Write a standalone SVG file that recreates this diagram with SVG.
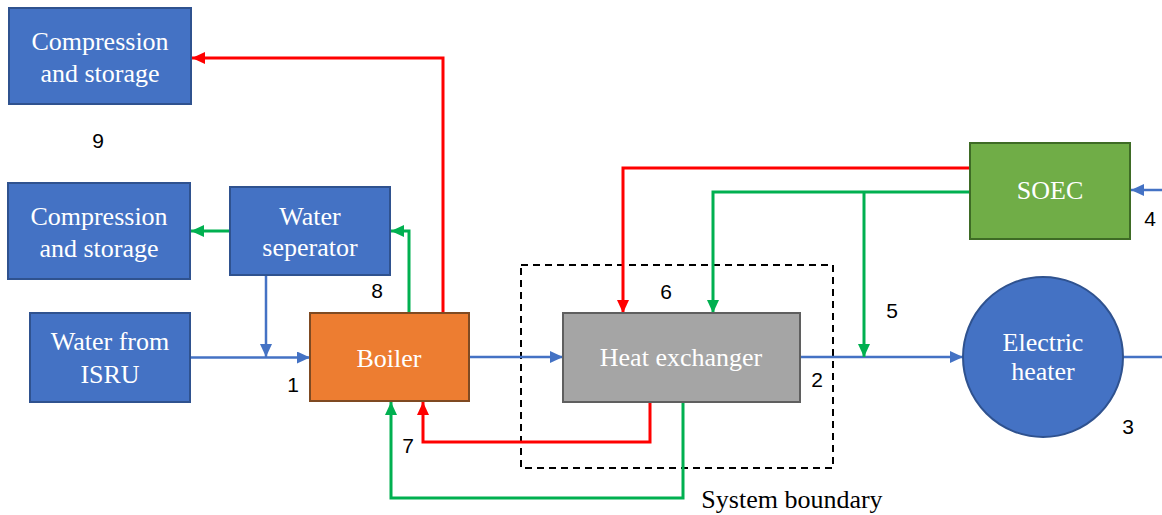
<svg xmlns="http://www.w3.org/2000/svg" width="1162" height="515" viewBox="0 0 1162 515">
  <defs>
    <marker id="ah-blue" markerUnits="userSpaceOnUse" markerWidth="13" markerHeight="12" refX="13" refY="6" orient="auto">
      <path d="M0,0 L13,6 L0,12 z" fill="#4472C4"/>
    </marker>
    <marker id="ah-red" markerUnits="userSpaceOnUse" markerWidth="13" markerHeight="12" refX="13" refY="6" orient="auto">
      <path d="M0,0 L13,6 L0,12 z" fill="#FF0000"/>
    </marker>
    <marker id="ah-green" markerUnits="userSpaceOnUse" markerWidth="13" markerHeight="12" refX="13" refY="6" orient="auto">
      <path d="M0,0 L13,6 L0,12 z" fill="#00B050"/>
    </marker>
  </defs>
  <style>
    .blue { fill: #4472C4; stroke: #2F528F; stroke-width: 2; }
    .label { font-family: "Liberation Serif", "Times New Roman", serif; font-size: 26px; fill: #FFFFFF; text-anchor: middle; }
    .num { font-family: "Liberation Sans", Arial, sans-serif; font-size: 21px; fill: #000000; text-anchor: middle; }
    .wb { fill: none; stroke: #4472C4; stroke-width: 2.5; }
    .wr { fill: none; stroke: #FF0000; stroke-width: 3; }
    .wg { fill: none; stroke: #00B050; stroke-width: 3; }
  </style>
  <rect width="1162" height="515" fill="#FFFFFF"/>

  <!-- system boundary -->
  <rect x="521" y="265" width="312" height="203" fill="none" stroke="#000000" stroke-width="2" stroke-dasharray="7,5"/>
  <text x="792" y="508" font-family="Liberation Serif, Times New Roman, serif" font-size="26" text-anchor="middle" fill="#000000">System boundary</text>

  <g id="connectors">
    <!-- boiler steam to top compression -->
    <path class="wr" d="M443,313 V58 H192" marker-end="url(#ah-red)"/>
    <!-- boiler gas to water separator -->
    <path class="wg" d="M409,313 V231 H391" marker-end="url(#ah-green)"/>
    <!-- water separator to compression -->
    <path class="wg" d="M230,231 H191" marker-end="url(#ah-green)"/>
    <!-- water separator recycle -->
    <path class="wb" d="M266,275 V357" marker-end="url(#ah-blue)"/>
    <!-- ISRU water to boiler -->
    <path class="wb" d="M190,357.5 H310" marker-end="url(#ah-blue)"/>
    <!-- boiler to heat exchanger -->
    <path class="wb" d="M469,357 H563" marker-end="url(#ah-blue)"/>
    <!-- heat exchanger to electric heater -->
    <path class="wb" d="M800,357 H963" marker-end="url(#ah-blue)"/>
    <!-- heater outlet -->
    <path class="wb" d="M1123,357 H1162"/>
    <!-- SOEC inlet -->
    <path class="wb" d="M1162,190 H1131" marker-end="url(#ah-blue)"/>
    <!-- SOEC oxygen to heat exchanger -->
    <path class="wr" d="M970,168 H623 V313" marker-end="url(#ah-red)"/>
    <!-- SOEC hydrogen to heat exchanger -->
    <path class="wg" d="M970,192 H713 V313" marker-end="url(#ah-green)"/>
    <!-- hydrogen branch into feed -->
    <path class="wg" d="M864,192 V357" marker-end="url(#ah-green)"/>
    <!-- heat exchanger returns to boiler -->
    <path class="wr" d="M650,402 V442 H423 V402" marker-end="url(#ah-red)"/>
    <path class="wg" d="M683,402 V498 H391 V402" marker-end="url(#ah-green)"/>
  </g>

  <g id="compression-top">
    <rect class="blue" x="9" y="8" width="182" height="96"/>
    <text class="label" x="100" y="50">Compression</text>
    <text class="label" x="100" y="82">and storage</text>
  </g>

  <g id="compression-mid">
    <rect class="blue" x="8" y="183" width="182" height="96"/>
    <text class="label" x="99" y="225">Compression</text>
    <text class="label" x="99" y="257">and storage</text>
  </g>

  <g id="water-separator">
    <rect class="blue" x="230" y="187" width="160" height="88"/>
    <text class="label" x="310" y="225">Water</text>
    <text class="label" x="310" y="256">seperator</text>
  </g>

  <g id="water-isru">
    <rect class="blue" x="30" y="313" width="160" height="89"/>
    <text class="label" x="110" y="350">Water from</text>
    <text class="label" x="110" y="383">ISRU</text>
  </g>

  <g id="boiler">
    <rect x="310" y="313" width="159" height="88" fill="#ED7D31" stroke="#7F4A22" stroke-width="2"/>
    <text class="label" x="389" y="367">Boiler</text>
  </g>

  <g id="heat-exchanger">
    <rect x="563" y="313" width="237" height="89" fill="#A5A5A5" stroke="#5F5F5F" stroke-width="2"/>
    <text class="label" x="681" y="366">Heat exchanger</text>
  </g>

  <g id="soec">
    <rect x="970" y="143" width="160" height="96" fill="#70AD47" stroke="#3E6B25" stroke-width="2"/>
    <text class="label" x="1050" y="199">SOEC</text>
  </g>

  <g id="electric-heater">
    <ellipse cx="1043" cy="357" rx="80" ry="80" fill="#4472C4" stroke="#2F528F" stroke-width="2"/>
    <text class="label" x="1043" y="351" font-size="24">Electric</text>
    <text class="label" x="1043" y="380" font-size="24">heater</text>
  </g>

  <g id="stream-numbers">
    <text class="num" x="293" y="392">1</text>
    <text class="num" x="817" y="387">2</text>
    <text class="num" x="1128" y="434">3</text>
    <text class="num" x="1150" y="226">4</text>
    <text class="num" x="892" y="318">5</text>
    <text class="num" x="666" y="299">6</text>
    <text class="num" x="408" y="453">7</text>
    <text class="num" x="377" y="298">8</text>
    <text class="num" x="98" y="148">9</text>
  </g>
</svg>
